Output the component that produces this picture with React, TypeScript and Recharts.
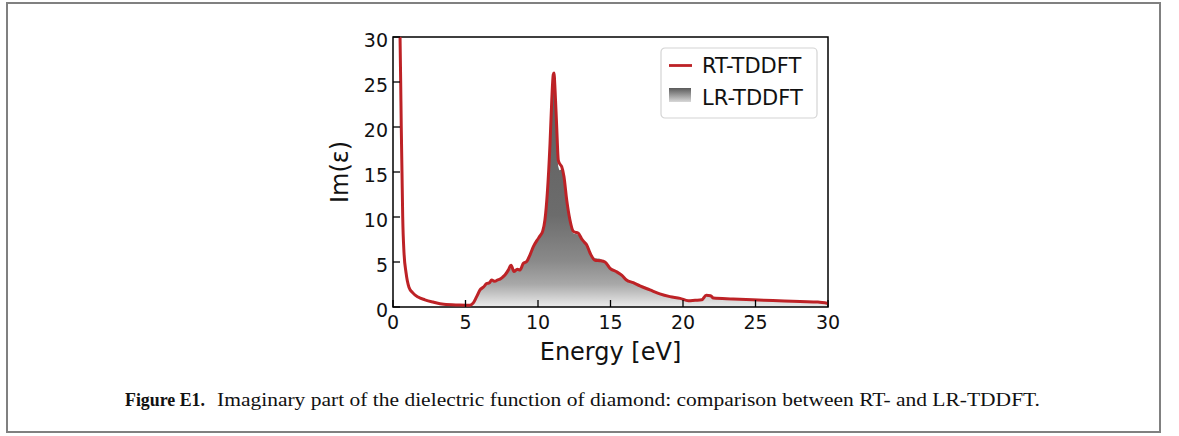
import React from "react";
import {
  ComposedChart,
  XAxis,
  YAxis,
  Area,
  Line,
  ReferenceArea,
  Label,
} from "recharts";

// energy grid [eV]
const energy = [
  0.45, 0.53, 0.57, 0.62, 0.67, 0.76, 0.9, 1.1, 1.35, 1.73, 2.2, 2.76, 3.5, 4.5, 5.0,
  5.3, 5.54, 5.77, 6.0, 6.23, 6.46, 6.65, 6.8, 7.03, 7.2, 7.38, 7.55, 7.72, 7.95, 8.14,
  8.34, 8.57, 8.76, 8.99, 9.22, 9.45, 9.68, 9.95, 10.14, 10.32, 10.48, 10.64, 10.83, 10.95,
  11.05, 11.1, 11.18, 11.29, 11.4, 11.5, 11.63, 11.79, 11.98, 12.2, 12.44, 12.6, 12.78,
  13.0, 13.2, 13.36, 13.59, 13.93, 14.28, 14.62, 14.97, 15.43, 15.77, 16.1, 16.57, 17.03,
  17.72, 18.4, 19.1, 19.8, 20.37, 20.83, 21.29, 21.6, 21.9, 22.1, 23.45, 24.8, 26.2,
  28.07, 29.3, 30,
];

// RT-TDDFT, Im(eps)
const rtValues = [
  34, 25, 20, 15, 10, 6, 3.8, 2.2, 1.6, 1.1, 0.8, 0.55, 0.3, 0.22, 0.2,
  0.2, 0.45, 1.15, 1.9, 2.2, 2.6, 2.7, 3.0, 2.85, 3.0, 3.1, 3.3, 3.55, 4.1, 4.65,
  3.95, 4.2, 4.1, 4.85, 5.05, 5.8, 6.7, 7.45, 7.9, 8.4, 9.7, 12.6, 18.2, 23,
  25.8, 26, 24, 20, 16.3, 15.9, 15.6, 14.5, 11.9, 9.7, 8.4, 8.3, 8.2,
  7.6, 7.2, 6.9, 6.0, 5.2, 5.15, 5.0, 4.3, 3.9, 3.55, 3.0, 2.7, 2.35,
  1.9, 1.45, 1.15, 0.96, 0.7, 0.75, 0.8, 1.3, 1.25, 1.0, 0.9, 0.8, 0.72,
  0.6, 0.55, 0.4,
];

// LR-TDDFT, Im(eps)
const lrValues = [
  0, 0, 0, 0, 0, 0, 0, 0, 0, 0, 0, 0, 0, 0, 0,
  0.05, 0.35, 1.0, 1.8, 2.1, 2.5, 2.6, 2.9, 2.75, 2.9, 3.0, 3.2, 3.45, 3.95, 4.3,
  3.85, 4.1, 4.0, 4.7, 4.95, 5.65, 6.55, 7.3, 7.75, 8.25, 9.5, 12.3, 17.8, 22.5,
  25.2, 25.5, 23.5, 19.5, 15.6, 15.2, 15.3, 14.2, 11.6, 9.5, 8.2, 8.1, 8.0,
  7.45, 7.05, 6.75, 5.95, 5.45, 5.35, 4.9, 4.2, 3.8, 3.45, 2.9, 2.6, 2.25,
  1.8, 1.4, 1.1, 0.9, 0.65, 0.7, 0.75, 1.2, 1.15, 0.95, 0.85, 0.75, 0.68,
  0.55, 0.5, 0.38,
];

const xTicks = [0, 5, 10, 15, 20, 25, 30];
const yTicks = [0, 5, 10, 15, 20, 25, 30];

const RED = "#bd2226";
const FONT = "'DejaVu Sans', sans-serif";
const SERIF = "'Liberation Serif', serif";

const data = energy.map((e, i) => ({ energy: e, rt: rtValues[i], lr: lrValues[i] }));

// matplotlib-style inward ticks
const XTick = (props: any) => {
  const { x, y, payload } = props;
  return (
    <g>
      <line x1={x} y1={y} x2={x} y2={y - 7} stroke="#000" strokeWidth={1.3} />
      <text x={x} y={y + 15} textAnchor="middle" dominantBaseline="central" fontSize={19} fontFamily={FONT} fill="#111">
        {payload.value}
      </text>
    </g>
  );
};

const YTick = (props: any) => {
  const { x, y, payload } = props;
  return (
    <g>
      <line x1={x} y1={y} x2={x + 7} y2={y} stroke="#000" strokeWidth={1.3} />
      <text x={x - 5} y={y + 3} textAnchor="end" dominantBaseline="central" fontSize={19} fontFamily={FONT} fill="#111">
        {payload.value}
      </text>
    </g>
  );
};

function LegendBox() {
  return (
    <svg width={158} height={72} style={{ position: "absolute", left: 660, top: 47 }}>
      <defs>
        <linearGradient id="legGrad" x1="0" y1="0" x2="0" y2="1">
          <stop offset="0%" stopColor="#5a5a5a" />
          <stop offset="100%" stopColor="#d8d8d8" />
        </linearGradient>
      </defs>
      <rect x={1} y={1} width={156} height={70} rx={4} fill="#fff" stroke="#d4d4d4" strokeWidth={1.2} />
      <line x1={9} x2={32} y1={18.5} y2={18.5} stroke={RED} strokeWidth={2.8} />
      <text x={42} y={26} fontSize={21} fontFamily={FONT} fill="#111">RT-TDDFT</text>
      <rect x={9} y={41} width={22} height={14} fill="url(#legGrad)" />
      <text x={42} y={58} fontSize={21} fontFamily={FONT} fill="#111">LR-TDDFT</text>
    </svg>
  );
}

export default function App() {
  return (
    <div style={{ position: "absolute", left: 0, top: 0, width: 1179, height: 436, background: "#fff" }}>
      <div
        style={{
          position: "absolute",
          left: 6,
          top: 2,
          width: 1155,
          height: 431,
          border: "2px solid #808080",
          boxSizing: "border-box",
        }}
      />
      <div style={{ position: "absolute", left: 0, top: 0 }}>
        <ComposedChart
          width={1179}
          height={436}
          data={data}
          margin={{ top: 37, right: 351, left: 333, bottom: 69 }}
        >
          <defs>
            <linearGradient id="lrGrad" x1="0" y1="0" x2="0" y2="1">
              <stop offset="0%" stopColor="#5e5e5e" />
              <stop offset="60%" stopColor="#6c6c6c" />
              <stop offset="80%" stopColor="#8a8a8a" />
              <stop offset="90%" stopColor="#a8a8a8" />
              <stop offset="100%" stopColor="#ececec" />
            </linearGradient>
          </defs>
          <XAxis
            dataKey="energy"
            type="number"
            domain={[0, 30]}
            ticks={xTicks}
            height={60}
            tickSize={0}
            tickMargin={0}
            tickLine={false}
            axisLine={false}
            tick={XTick}
            interval={0}
          >
            <Label
              content={({ viewBox }: any) => (
                <text
                  x={viewBox.x + viewBox.width / 2}
                  y={viewBox.y + 45}
                  textAnchor="middle"
                  dominantBaseline="central"
                  fontSize={24}
                  fontFamily={FONT}
                  fill="#111"
                >
                  Energy [eV]
                </text>
              )}
            />
          </XAxis>
          <YAxis
            type="number"
            domain={[0, 30]}
            ticks={yTicks}
            width={60}
            allowDataOverflow
            tickSize={0}
            tickMargin={0}
            tickLine={false}
            axisLine={false}
            tick={YTick}
            interval={0}
          >
            <Label
              content={({ viewBox }: any) => {
                const cx = viewBox.x + 7;
                const cy = viewBox.y + viewBox.height / 2;
                return (
                  <text
                    x={cx}
                    y={cy}
                    transform={`rotate(-90 ${cx} ${cy})`}
                    textAnchor="middle"
                    dominantBaseline="central"
                    fontSize={24}
                    fontFamily={FONT}
                    fill="#111"
                  >
                    Im(ε)
                  </text>
                );
              }}
            />
          </YAxis>
          <Area
            type="monotone"
            dataKey="lr"
            baseValue={0}
            stroke="none"
            fill="url(#lrGrad)"
            fillOpacity={1}
            isAnimationActive={false}
          />
          <Line
            type="monotone"
            dataKey="rt"
            stroke={RED}
            strokeWidth={3}
            dot={false}
            isAnimationActive={false}
          />
          <ReferenceArea
            x1={0}
            x2={30}
            y1={0}
            y2={30}
            fill="none"
            stroke="#000"
            strokeWidth={1.5}
            ifOverflow="visible"
          />
        </ComposedChart>
      </div>
      <LegendBox />
      <svg width={1179} height={436} style={{ position: "absolute", left: 0, top: 0, pointerEvents: "none" }}>
        <text x={125} y={406} fontSize={19} fontFamily={SERIF} fontWeight="bold" fill="#111" textLength={80} lengthAdjust="spacingAndGlyphs">
          Figure E1.
        </text>
        <text x={217} y={406} fontSize={19} fontFamily={SERIF} fill="#111" textLength={823} lengthAdjust="spacingAndGlyphs">
          Imaginary part of the dielectric function of diamond: comparison between RT- and LR-TDDFT.
        </text>
      </svg>
    </div>
  );
}
